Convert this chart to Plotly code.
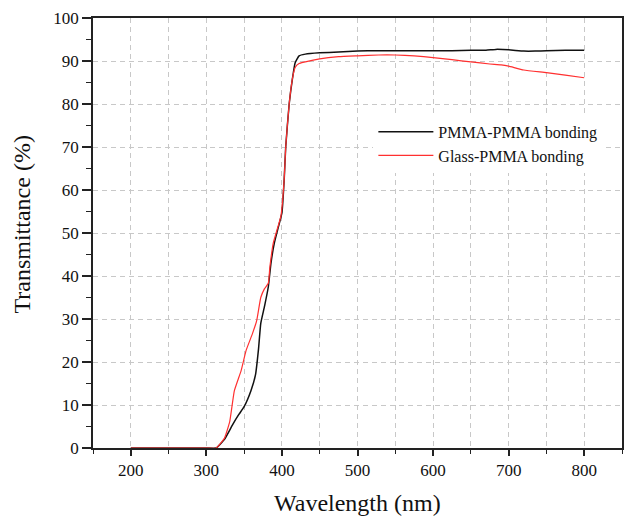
import plotly.graph_objects as go

# PMMA-PMMA bonding (black)
wl_black = [200, 250, 300, 313, 324, 335, 343, 350, 359, 365, 369, 372, 377, 382, 385.5, 390, 395.6, 400,
            403, 405, 409.6, 414, 417.5, 422.7, 431, 450, 475, 500, 527, 550, 575, 600, 625, 650, 670, 683,
            700, 720, 735, 750, 775, 800]
t_black = [0, 0, 0, 0, 2, 5.5, 7.8, 9.6, 13.3, 17, 23, 29, 33, 37.5, 43, 47.7, 51.6, 54.7,
           62.5, 70, 80, 86, 89.6, 91.2, 91.6, 91.9, 92.1, 92.3, 92.4, 92.4, 92.4, 92.4, 92.4, 92.5, 92.5, 92.7,
           92.6, 92.3, 92.3, 92.4, 92.5, 92.5]

# Glass-PMMA bonding (red)
wl_red = [200, 250, 300, 313, 324, 331, 337, 346, 352.6, 361, 366.7, 372, 376.8, 382, 384, 388.6, 394, 398.7,
          403, 405, 409.6, 414, 417.5, 422.7, 431, 450, 475, 500, 528, 550, 575, 600, 625, 650, 675, 690,
          700, 720, 750, 775, 800]
t_red = [0, 0, 0, 0, 2.3, 6.2, 13.3, 18, 22.7, 26.6, 29.7, 35, 37, 38.3, 42, 47.7, 51, 54,
         62.5, 70, 80, 86, 88.5, 89.4, 89.8, 90.5, 91.0, 91.2, 91.4, 91.4, 91.2, 90.8, 90.3, 89.8, 89.3, 89.1,
         88.8, 87.9, 87.3, 86.7, 86.1]

x_ticks = [200, 300, 400, 500, 600, 700, 800]
y_ticks = [0, 10, 20, 30, 40, 50, 60, 70, 80, 90, 100]
x_title = "Wavelength (nm)"
y_title = "Transmittance (%)"

FONT = "Liberation Serif"
GRID = "#c8c8c8"

fig = go.Figure()
fig.add_trace(go.Scatter(x=wl_black, y=t_black, mode="lines", name="PMMA-PMMA bonding",
                         line=dict(color="#111111", width=1.5, shape="spline", smoothing=0.4)))
fig.add_trace(go.Scatter(x=wl_red, y=t_red, mode="lines", name="Glass-PMMA bonding",
                         line=dict(color="#ff3030", width=1.2, shape="spline", smoothing=0.4)))

fig.update_layout(
    width=625, height=516,
    margin=dict(l=93, r=3, t=18, b=68, autoexpand=False),
    paper_bgcolor="white", plot_bgcolor="white",
    font=dict(family=FONT, color="#111111", size=17),
    showlegend=True,
    legend=dict(x=0.53, y=0.775, xanchor="left", yanchor="top",
                bgcolor="white", borderwidth=0,
                font=dict(family=FONT, size=16, color="#111111"),
                tracegroupgap=2, itemwidth=55),
    annotations=[
        dict(text=x_title, xref="paper", yref="paper", x=0.5, y=-0.128,
             xanchor="center", yanchor="middle", showarrow=False,
             font=dict(family=FONT, size=24, color="#111111")),
        dict(text=y_title, xref="paper", yref="paper", x=-0.134, y=0.52,
             xanchor="center", yanchor="middle", showarrow=False, textangle=-90,
             font=dict(family=FONT, size=24, color="#111111")),
    ],
)

fig.update_xaxes(
    automargin=False,
    range=[150, 850],
    tickmode="array", tickvals=x_ticks, ticktext=[str(v) for v in x_ticks],
    ticks="outside", ticklen=6, tickwidth=1.5, tickcolor="#222222",
    showline=True, linecolor="#222222", linewidth=1.5, mirror=True,
    showgrid=True, gridcolor=GRID, griddash="5px,4px", gridwidth=1,
    minor=dict(dtick=50, tick0=150, ticks="outside", ticklen=4, tickwidth=1.2, tickcolor="#222222",
               showgrid=True, gridcolor=GRID, griddash="5px,4px", gridwidth=1),
    zeroline=False,
    tickfont=dict(family=FONT, size=17, color="#111111"),
)
fig.update_yaxes(
    automargin=False,
    range=[0, 100],
    tickmode="array", tickvals=y_ticks, ticktext=[str(v) for v in y_ticks],
    ticks="outside", ticklen=9, tickwidth=1.5, tickcolor="#222222",
    showline=True, linecolor="#222222", linewidth=1.5, mirror=True,
    showgrid=True, gridcolor=GRID, griddash="5px,4px", gridwidth=1,
    minor=dict(dtick=5, tick0=0, ticks="outside", ticklen=5, tickwidth=1.2, tickcolor="#222222",
               showgrid=False),
    zeroline=False,
    tickfont=dict(family=FONT, size=17, color="#111111"),
)

fig.write_html("out.html", config={"displayModeBar": False},
               post_script="document.body.style.margin='0px';document.body.style.overflow='hidden';")
